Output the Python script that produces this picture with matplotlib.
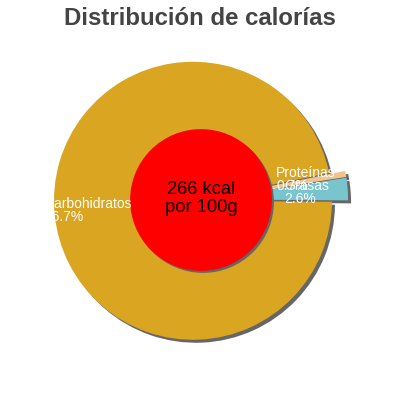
import matplotlib
matplotlib.use("Agg")
import matplotlib.pyplot as plt
import numpy as np
from matplotlib.patches import Circle
from matplotlib.transforms import ScaledTranslation

plt.rcParams['font.family'] = ['Liberation Sans', 'DejaVu Sans']

# Data
categories = ["Grasas", "Proteínas", "Carbohidratos"]
percentages = [2.6, 0.7, 96.7]
colors = ["#78C5CD", "#F2C48C", "#DAA520"]
title = "Distribución de calorías"
center_text = "266 kcal\npor 100g"

R_PX = 139.0
fig = plt.figure(figsize=(4, 4), dpi=100)
ax = fig.add_axes([0, 0, 1, 1])
ax.set_aspect('equal')
ax.axis('off')

shadow_off = ScaledTranslation(3 / 100, -3 / 100, fig.dpi_scale_trans)
start = -0.4
explode = [0.058] * len(percentages)

# shadow pie
sw, _ = ax.pie(percentages, colors=["#666666"] * 3, startangle=start,
               counterclock=True, explode=explode, radius=1.0,
               wedgeprops=dict(linewidth=0))
for w in sw:
    w.set_transform(ax.transData + shadow_off)
    w.set_zorder(1)

wedges, _ = ax.pie(percentages, colors=colors, startangle=start,
                   counterclock=True, explode=explode, radius=1.0,
                   wedgeprops=dict(linewidth=0))
for w in wedges:
    w.set_zorder(2)

ax.set_xlim(-201 / R_PX, 199 / R_PX)
ax.set_ylim(-200 / R_PX, 200 / R_PX)

# center circle with shadow
cs = Circle((0, 0), 0.51, color="#666666", lw=0, zorder=3,
            transform=ax.transData + ScaledTranslation(2 / 100, -2 / 100, fig.dpi_scale_trans))
ax.add_patch(cs)
ax.add_patch(Circle((0, 0), 0.51, color="#FF0000", lw=0, zorder=4))
ax.text(0, 0.01, center_text, ha='center', va='center', fontsize=13.2,
        color='black', linespacing=1.05, zorder=6)

# labels
label_dist = {"Grasas": 0.60, "Proteínas": 0.55, "Carbohidratos": 1.13}
label_dy = {"Grasas": 1, "Proteínas": 5, "Carbohidratos": 3.5}
for w, cat, pct in zip(wedges, categories, percentages):
    mid = np.deg2rad((w.theta1 + w.theta2) / 2)
    d = label_dist[cat]
    ax.annotate(f"{cat}\n{pct:.1f}%", xy=(d * np.cos(mid), d * np.sin(mid)),
                xytext=(0, label_dy[cat]), textcoords='offset points',
                ha='left', va='center', fontsize=10, color='white',
                linespacing=0.9, zorder=7)

fig.text(0.5, 1 - 25 / 400, title, ha='center', va='baseline',
         fontsize=17.3, fontweight='bold', color='#444444')

fig.savefig("out.png", dpi=100)
